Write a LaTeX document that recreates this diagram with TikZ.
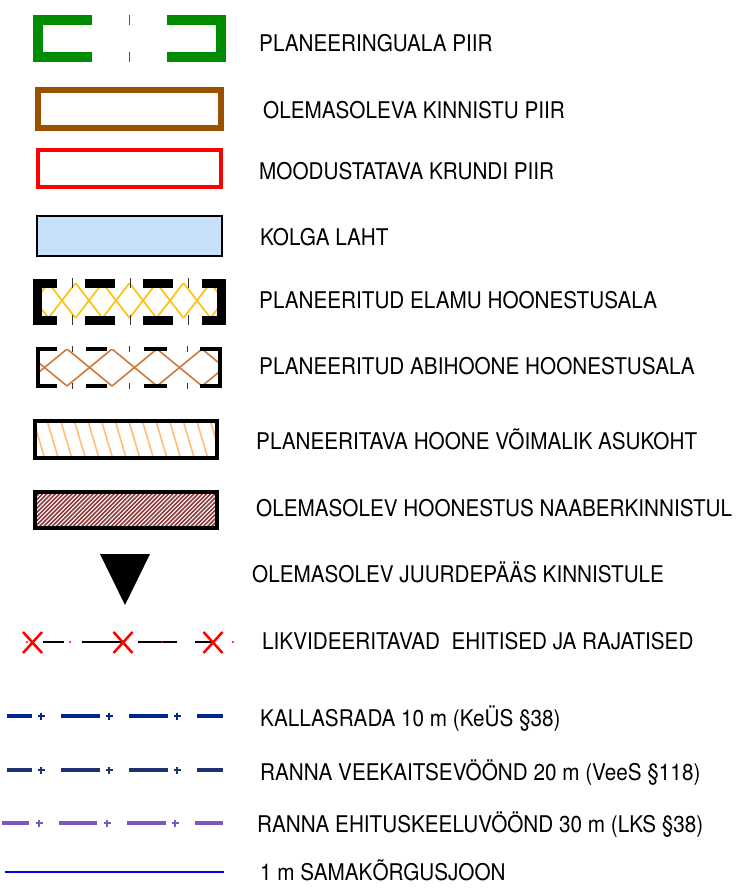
\documentclass[tikz,border=0pt]{standalone}
\usepackage{fontspec}
\setmainfont{TeX Gyre Heros}[FakeStretch=0.9]
\definecolor{cgreen}{RGB}{0,140,0}
\definecolor{cbrown}{RGB}{155,80,0}
\definecolor{clblue}{RGB}{200,225,251}
\definecolor{cyel}{RGB}{255,192,0}
\definecolor{corange}{RGB}{208,120,56}
\definecolor{clorange}{RGB}{255,190,120}
\definecolor{chatch}{RGB}{140,58,58}
\definecolor{cline1}{RGB}{0,40,140}
\definecolor{cline2}{RGB}{30,50,110}
\definecolor{cline3}{RGB}{120,90,190}
\begin{document}
\begin{tikzpicture}[x=1pt,y=-1pt,
  lbl/.style={anchor=base west, inner sep=0pt, font=\fontsize{23}{23}\selectfont},
  tickmark/.style={draw=black!80, line width=1pt},
  dashseg/.style={line width=4pt},
  plusmark/.style={line width=1.8pt},
  xmark/.style={draw=red, line width=2.5pt},
  rdot/.style={fill=red}]
\useasboundingbox (0,0) rectangle (748,888);

% 1 planeeringuala piir
\draw[cgreen, line width=10pt, line join=miter] (92,20) -- (38,20) -- (38,57) -- (92,57);
\draw[cgreen, line width=10pt, line join=miter] (167,20) -- (221,20) -- (221,57) -- (167,57);
\draw[cgreen, line width=1pt] (129,15) -- (129,25) (129,52) -- (129,62);
\node[lbl] (t1) at (259,51.5) {PLANEERINGUALA PIIR};

% 2 kinnistu piir
\draw[cbrown, line width=6pt] (38,90) rectangle (221,128);
\node[lbl] (t2) at (263,118) {OLEMASOLEVA KINNISTU PIIR};

% 3 krundi piir
\draw[red, line width=4pt] (38,150) rectangle (221,187);
\node[lbl] (t3) at (259,179) {MOODUSTATAVA KRUNDI PIIR};

% 4 Kolga laht
\draw[black, line width=2pt, fill=clblue] (37,216) rectangle (222,256);
\node[lbl] (t4) at (260,245) {KOLGA LAHT};

% 5 elamu hoonestusala
\begin{scope}
\clip (34,279) rectangle (224,324);
\foreach \k in {-2,...,8} {
  \pgfmathsetmacro\xa{48.5+27*\k}
  \draw[cyel, line width=1.6pt] (\xa,283) -- (\xa+27,318);
  \draw[cyel, line width=1.6pt] (\xa+27,283) -- (\xa,318);
}
\end{scope}
\draw[black, line width=9pt, line join=miter] (57,283) -- (37.5,283) -- (37.5,320) -- (57,320);
\draw[black, line width=9pt, line join=miter] (202,283) -- (221,283) -- (221,320) -- (202,320);
\draw[black, line width=9pt] (85,283) -- (115,283) (143,283) -- (173,283)
  (85,320) -- (115,320) (143,320) -- (173,320);
\foreach \x in {72,130,188} {\draw[tickmark] (\x,278) -- (\x,288) (\x,315) -- (\x,325);}
\node[lbl] (t5) at (259,308.5) {PLANEERITUD ELAMU HOONESTUSALA};

% 6 abihoone hoonestusala
\begin{scope}
\clip (38,349) rectangle (221,386);
\foreach \k in {-1,...,4} {
  \pgfmathsetmacro\xa{22+45*\k}
  \draw[corange, line width=1.6pt] (\xa,349) -- (\xa+45,386);
  \draw[corange, line width=1.6pt] (\xa+45,349) -- (\xa,386);
}
\end{scope}
\draw[black, line width=4pt, line join=miter] (57,349) -- (38,349) -- (38,386) -- (57,386);
\draw[black, line width=4pt, line join=miter] (200,349) -- (220,349) -- (220,386) -- (200,386);
\draw[black, line width=4pt] (86,349) -- (107,349) (144,349) -- (167,349)
  (86,386) -- (107,386) (144,386) -- (167,386);
\foreach \x in {72,129,187} {\draw[tickmark] (\x,346) -- (\x,352) (\x,383) -- (\x,389);}
\node[lbl] (t6) at (259,374.5) {PLANEERITUD ABIHOONE HOONESTUSALA};

% 7 planeeritava hoone asukoht
\begin{scope}
\clip (35,421) rectangle (217,458);
\foreach \x in {20,33.6,...,240} {
  \draw[clorange, line width=1.6pt] (\x,421) -- (\x+11,458);
}
\end{scope}
\draw[black, line width=4pt] (35,421) rectangle (217,458);
\node[lbl] (t7) at (256,449.5) {PLANEERITAVA HOONE VÕIMALIK ASUKOHT};

% 8 olemasolev hoonestus
\begin{scope}
\clip (35,492) rectangle (217,528);
\foreach \x in {-4,0.2,...,230} {
  \draw[chatch, line width=1.6pt] (\x,528) -- (\x+36,492);
}
\end{scope}
\draw[black, line width=4pt] (35,492) rectangle (217,528);
\node[lbl] (t8) at (256,516.5) {OLEMASOLEV HOONESTUS NAABERKINNISTUL};

% 9 juurdepaas
\fill[black] (100,554) -- (150,554) -- (125,605) -- cycle;
\node[lbl] (t9) at (252,582.5) {OLEMASOLEV JUURDEPÄÄS KINNISTULE};

% 10 likvideeritavad
\draw[black, line width=1.5pt] (43,642) -- (64,642) (82,642) -- (122,642)
  (138,642) -- (177,642) (195,642) -- (213,642);
\foreach \c in {32.5,123,213} {
  \draw[xmark] (\c-9.5,632) -- (\c+9.5,653) (\c+9.5,632) -- (\c-9.5,653);
}
\foreach \x in {27,70,162,233,265} {\fill[rdot] (\x,642) circle (1.1pt);}
\node[lbl] (t10) at (262,649.3) {LIKVIDEERITAVAD\ \ EHITISED JA RAJATISED};

% 11-13 dash-plus lines
\draw[cline1, dashseg] (7,716) -- (32,716) (61,716) -- (100,716) (129,716) -- (168,716) (197,716) -- (223,716);
\foreach \x in {41,109,177} {\draw[cline1, plusmark] (\x-3.5,716) -- (\x+3.5,716) (\x,712.5) -- (\x,719.5);}
\node[lbl] (t11) at (260,726.5) {KALLASRADA 10 m (KeÜS §38)};

\draw[cline2, dashseg] (7,770) -- (32,770) (61,770) -- (100,770) (129,770) -- (168,770) (197,770) -- (223,770);
\foreach \x in {41,109,177} {\draw[cline2, plusmark] (\x-3.5,770) -- (\x+3.5,770) (\x,766.5) -- (\x,773.5);}
\node[lbl] (t12) at (260,780.5) {RANNA VEEKAITSEVÖÖND 20 m (VeeS §118)};

\draw[cline3, dashseg] (2,823) -- (29,823) (59,823) -- (97,823) (127,823) -- (166,823) (195,823) -- (223,823);
\foreach \x in {39,107,175} {\draw[cline3, plusmark] (\x-3.5,823) -- (\x+3.5,823) (\x,819.5) -- (\x,826.5);}
\node[lbl] (t13) at (257,832.5) {RANNA EHITUSKEELUVÖÖND 30 m (LKS §38)};

% 14 samakorgusjoon
\draw[blue, line width=2pt] (5,872) -- (224,872);
\node[lbl] (t14) at (260,880.5) {1 m SAMAKÕRGUSJOON};
\end{tikzpicture}
\end{document}
